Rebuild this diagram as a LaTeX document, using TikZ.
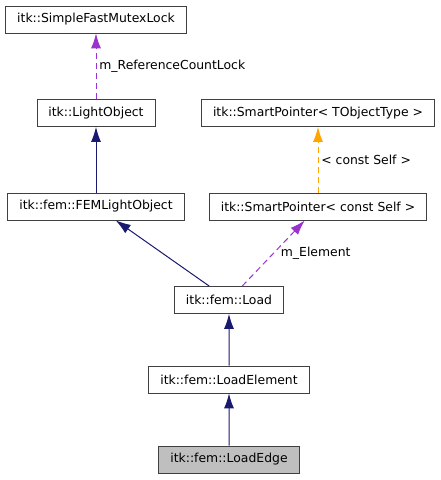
\documentclass[tikz,border=0pt]{standalone}
\usepackage{fontspec}
\setmainfont{DejaVu Sans}
\usetikzlibrary{arrows.meta,trees}
\definecolor{inhnavy}{HTML}{191970}
\definecolor{usepurple}{HTML}{9A32CD}
\definecolor{tmplorange}{HTML}{FFA500}
\begin{document}
\begin{tikzpicture}[x=1pt,y=1pt,grow=up,
   level 1/.style={level distance=80pt},
   level 2/.style={level distance=79.5pt},
   level 3/.style={grow via three points={one child at (0pt,93.5pt)
        and two children at (-133pt,93.5pt) and (89pt,93.5pt)}},
    every node/.style =
    {   shape=rectangle, solid,
        draw=black!75, fill=white, line width=0.8pt,
        font=\fontsize{12.4}{14}\selectfont,
        inner xsep=11.5pt,
        minimum height = 27pt,
     },
    edgelabel/.style = {draw=none, fill=none, minimum height=0pt, inner sep=3pt},
    edge from parent/.style = {draw=inhnavy, line width=1pt,
        -{Latex[length=15pt,width=10pt]}},
    uses/.style = {draw=usepurple, dash pattern=on 6pt off 4pt},
    tmpl/.style = {draw=tmplorange, dash pattern=on 6pt off 4pt}
    ]
\useasboundingbox (0,0) rectangle (441,-480);
\node[fill=black!25] (loadedge) at (229,-459.5) {itk::fem::LoadEdge}
    child {node (loadelement) {itk::fem::LoadElement}
        child {node (load) {itk::fem::Load}
            child {node (femlightobject) {itk::fem::FEMLightObject}
                child {node (lightobject) {itk::LightObject}
                    child {node (mutexlock) {itk::SimpleFastMutexLock}
                        edge from parent[uses] node[edgelabel,right] {m\_ReferenceCountLock}}}}
            child {node (constpointer) {itk::SmartPointer< const Self >}
                child {node (smartpointer) {itk::SmartPointer< TObjectType >}
                    edge from parent[tmpl] node[edgelabel,right] {< const Self >}}
                edge from parent[uses] node[edgelabel,right,xshift=4pt] {m\_Element}}}};
\end{tikzpicture}
\end{document}
